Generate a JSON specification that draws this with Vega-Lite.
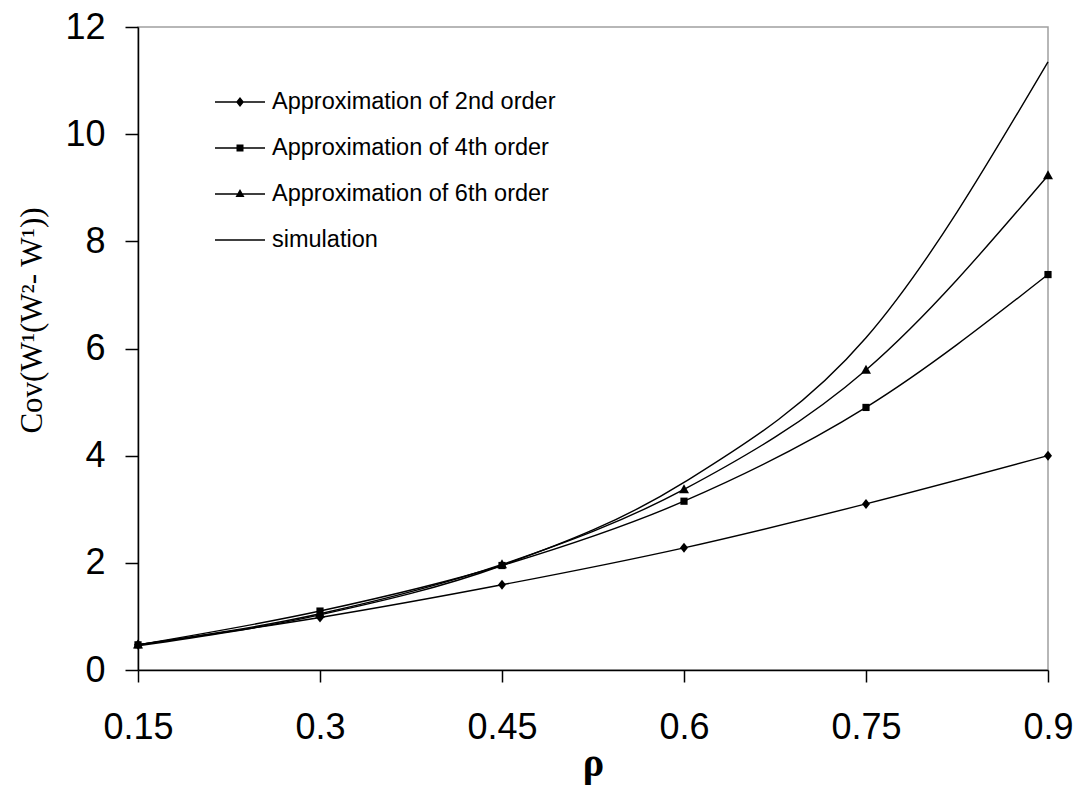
{
  "$schema": "https://vega.github.io/schema/vega-lite/v6.json",
  "width": 910,
  "height": 643,
  "autosize": "none",
  "padding": {"left": 138, "top": 27, "right": 29, "bottom": 118},
  "background": "white",
  "config": {
    "view": {"stroke": "#a0a0a0", "strokeWidth": 1.5},
    "font": "Liberation Sans",
    "axis": {"grid": false, "domainColor": "black", "domainWidth": 1.5, "tickColor": "black", "tickWidth": 1.5, "labelColor": "black", "titleColor": "black", "labelFont": "Liberation Sans", "labelFontSize": 36}
  },
  "data": {
    "values": [
      {"rho": 0.15, "cov": 0.47, "series": "Approximation of 2nd order"},
      {"rho": 0.3, "cov": 0.98, "series": "Approximation of 2nd order"},
      {"rho": 0.45, "cov": 1.59, "series": "Approximation of 2nd order"},
      {"rho": 0.6, "cov": 2.28, "series": "Approximation of 2nd order"},
      {"rho": 0.75, "cov": 3.1, "series": "Approximation of 2nd order"},
      {"rho": 0.9, "cov": 4.0, "series": "Approximation of 2nd order"},
      {"rho": 0.15, "cov": 0.47, "series": "Approximation of 4th order"},
      {"rho": 0.3, "cov": 1.1, "series": "Approximation of 4th order"},
      {"rho": 0.45, "cov": 1.95, "series": "Approximation of 4th order"},
      {"rho": 0.6, "cov": 3.15, "series": "Approximation of 4th order"},
      {"rho": 0.75, "cov": 4.9, "series": "Approximation of 4th order"},
      {"rho": 0.9, "cov": 7.38, "series": "Approximation of 4th order"},
      {"rho": 0.15, "cov": 0.47, "series": "Approximation of 6th order"},
      {"rho": 0.3, "cov": 1.05, "series": "Approximation of 6th order"},
      {"rho": 0.45, "cov": 1.97, "series": "Approximation of 6th order"},
      {"rho": 0.6, "cov": 3.37, "series": "Approximation of 6th order"},
      {"rho": 0.75, "cov": 5.6, "series": "Approximation of 6th order"},
      {"rho": 0.9, "cov": 9.23, "series": "Approximation of 6th order"},
      {"rho": 0.15, "cov": 0.45, "series": "simulation"},
      {"rho": 0.3, "cov": 1.03, "series": "simulation"},
      {"rho": 0.45, "cov": 1.95, "series": "simulation"},
      {"rho": 0.6, "cov": 3.5, "series": "simulation"},
      {"rho": 0.75, "cov": 6.2, "series": "simulation"},
      {"rho": 0.9, "cov": 11.35, "series": "simulation"}
    ]
  },
  "encoding": {
    "x": {
      "field": "rho", "type": "quantitative",
      "scale": {"domain": [0.15, 0.9], "nice": false, "zero": false},
      "axis": {"values": [0.15, 0.3, 0.45, 0.6, 0.75, 0.9], "format": ".2~f", "tickSize": 12, "labelPadding": 28, "labelFlush": false, "labelOverlap": false,
        "title": "ρ", "titleFont": "Liberation Serif", "titleFontSize": 40, "titleFontWeight": "bold", "titleY": 105, "titleBaseline": "alphabetic"}
    },
    "y": {
      "field": "cov", "type": "quantitative",
      "scale": {"domain": [0, 12], "nice": false},
      "axis": {"values": [0, 2, 4, 6, 8, 10, 12], "tickSize": 13, "labelPadding": 20, "labelFlush": false, "labelOverlap": false,
        "title": "Cov(W¹(W²- W¹))", "titleFont": "Liberation Serif", "titleFontSize": 31, "titleFontWeight": "normal", "titleX": -106, "titleY": 293, "titleAngle": -90, "titleAlign": "center", "titleBaseline": "middle"}
    }
  },
  "layer": [
    {
      "mark": {"type": "line", "interpolate": "monotone", "color": "black", "strokeWidth": 1.4},
      "encoding": {"detail": {"field": "series"}}
    },
    {
      "transform": [{"filter": "datum.series !== 'simulation'"}],
      "mark": {"type": "point", "filled": true, "color": "black", "opacity": 1, "size": 64, "strokeWidth": 0},
      "encoding": {
        "shape": {"field": "series", "scale": {"domain": ["Approximation of 2nd order", "Approximation of 4th order", "Approximation of 6th order"],
          "range": ["M0,-1.25L1,0L0,1.25L-1,0Z", "M-0.9,-0.9H0.9V0.9H-0.9Z", "M0,-1.3L1.25,0.95H-1.25Z"]}, "legend": null}
      }
    },
    {
      "transform": [{"filter": "datum.rho > 5"}],
      "mark": {"type": "point", "filled": true, "color": "black", "opacity": 1},
      "encoding": {
        "shape": {
          "field": "series",
          "scale": {
            "domain": ["Approximation of 2nd order", "Approximation of 4th order", "Approximation of 6th order", "simulation"],
            "range": [
              "M-1,-0.028H1V0.028H-1ZM0,-0.2L0.16,0L0,0.2L-0.16,0Z",
              "M-1,-0.028H1V0.028H-1ZM-0.14,-0.14H0.14V0.14H-0.14Z",
              "M-1,-0.028H1V0.028H-1ZM0,-0.2L0.18,0.12H-0.18Z",
              "M-1,-0.028H1V0.028H-1Z"
            ]
          },
          "legend": {
            "orient": "none", "legendX": 77, "legendY": 50, "title": null, "padding": 0,
            "symbolSize": 2500, "symbolFillColor": "black", "symbolStrokeWidth": 0, "symbolOpacity": 1,
            "rowPadding": 9, "labelOffset": 7, "labelFont": "Liberation Sans", "labelFontSize": 23.5, "labelColor": "black", "labelLimit": 500,
            "encode": {"symbols": {"update": {"fill": {"value": "black"}, "opacity": {"value": 1}, "strokeWidth": {"value": 0}}}}
          }
        }
      }
    }
  ],
  "resolve": {"scale": {"shape": "independent"}}
}
